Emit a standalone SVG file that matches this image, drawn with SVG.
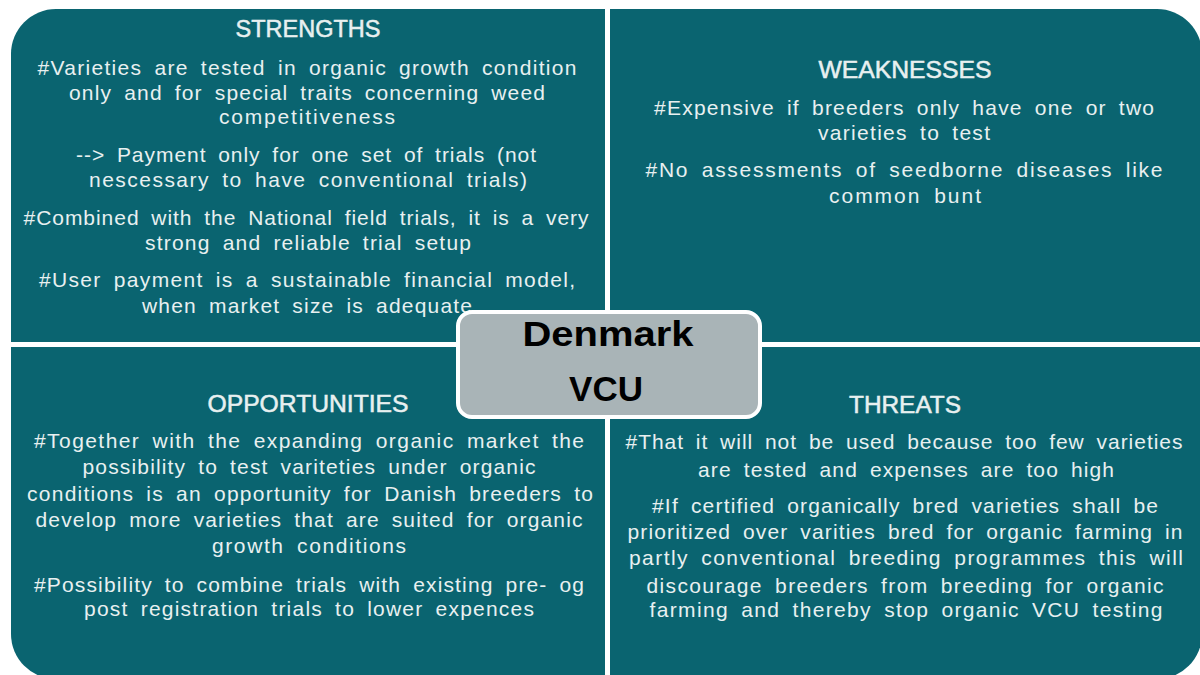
<svg xmlns="http://www.w3.org/2000/svg" width="1200" height="675" viewBox="0 0 1200 675">
  <style>
    .quad { fill: #0a6470; }
    .title { font-family: "Liberation Sans", Arial, sans-serif; font-size: 23.5px; fill: #e8f0f0; stroke: #e8f0f0; stroke-width: 0.5; text-anchor: middle; }
    .body { font-family: "Liberation Sans", Arial, sans-serif; font-size: 21px; word-spacing: 5px; fill: #e8f0f0; text-anchor: middle; }
    .center-box { fill: #a9b4b7; stroke: #ffffff; stroke-width: 4; }
    .center-text { font-family: "Liberation Sans", Arial, sans-serif; font-size: 35px; font-weight: bold; fill: #000000; text-anchor: middle; }
  </style>
  <rect width="1200" height="675" fill="#ffffff"/>

  <g id="strengths">
    <path class="quad" d="M11,342 V54 A45,45 0 0 1 56,9 H605 V342 Z"/>
    <text class="title" x="308" y="37" textLength="145" lengthAdjust="spacingAndGlyphs">STRENGTHS</text>
    <text class="body" x="307" y="75" textLength="539" lengthAdjust="spacing">#Varieties are tested in organic growth condition</text>
    <text class="body" x="307" y="100" textLength="476" lengthAdjust="spacing">only and for special traits concerning weed</text>
    <text class="body" x="307" y="124" textLength="176" lengthAdjust="spacing">competitiveness</text>
    <text class="body" x="306" y="162" textLength="460" lengthAdjust="spacing">--&gt; Payment only for one set of trials (not</text>
    <text class="body" x="308" y="187" textLength="438" lengthAdjust="spacing">nescessary to have conventional trials)</text>
    <text class="body" x="306" y="225" textLength="565" lengthAdjust="spacing">#Combined with the National field trials, it is a very</text>
    <text class="body" x="308" y="250" textLength="326" lengthAdjust="spacing">strong and reliable trial setup</text>
    <text class="body" x="307" y="287" textLength="536" lengthAdjust="spacing">#User payment is a sustainable financial model,</text>
    <text class="body" x="307" y="313" textLength="330" lengthAdjust="spacing">when market size is adequate</text>
  </g>

  <g id="weaknesses">
    <path class="quad" d="M610,9 H1157 A45,45 0 0 1 1202,54 V342 H610 Z"/>
    <text class="title" x="905" y="78" textLength="173" lengthAdjust="spacingAndGlyphs">WEAKNESSES</text>
    <text class="body" x="904" y="115" textLength="500" lengthAdjust="spacing">#Expensive if breeders only have one or two</text>
    <text class="body" x="904" y="140" textLength="172" lengthAdjust="spacing">varieties to test</text>
    <text class="body" x="904" y="177" textLength="517" lengthAdjust="spacing">#No assessments of seedborne diseases like</text>
    <text class="body" x="905" y="203" textLength="152" lengthAdjust="spacing">common bunt</text>
  </g>

  <g id="opportunities">
    <path class="quad" d="M11,347 H605 V679 H56 A45,45 0 0 1 11,634 Z"/>
    <text class="title" x="308" y="412" textLength="201" lengthAdjust="spacingAndGlyphs">OPPORTUNITIES</text>
    <text class="body" x="309" y="448" textLength="550" lengthAdjust="spacing">#Together with the expanding organic market the</text>
    <text class="body" x="309" y="474" textLength="453" lengthAdjust="spacing">possibility to test variteties under organic</text>
    <text class="body" x="310" y="501" textLength="566" lengthAdjust="spacing">conditions is an opportunity for Danish breeders to</text>
    <text class="body" x="309" y="527" textLength="547" lengthAdjust="spacing">develop more varieties that are suited for organic</text>
    <text class="body" x="309" y="553" textLength="194" lengthAdjust="spacing">growth conditions</text>
    <text class="body" x="309" y="592" textLength="550" lengthAdjust="spacing">#Possibility to combine trials with existing pre- og</text>
    <text class="body" x="309" y="616" textLength="450" lengthAdjust="spacing">post registration trials to lower expences</text>
  </g>

  <g id="threats">
    <path class="quad" d="M610,347 H1202 V634 A45,45 0 0 1 1157,679 H610 Z"/>
    <text class="title" x="905" y="413" textLength="112" lengthAdjust="spacingAndGlyphs">THREATS</text>
    <text class="body" x="904" y="449" textLength="557" lengthAdjust="spacing">#That it will not be used because too few varieties</text>
    <text class="body" x="906" y="477" textLength="416" lengthAdjust="spacing">are tested and expenses are too high</text>
    <text class="body" x="905" y="513" textLength="506" lengthAdjust="spacing">#If certified organically bred varieties shall be</text>
    <text class="body" x="905" y="539" textLength="555" lengthAdjust="spacing">prioritized over varities bred for organic farming in</text>
    <text class="body" x="906" y="565" textLength="554" lengthAdjust="spacing">partly conventional breeding programmes this will</text>
    <text class="body" x="905" y="593" textLength="517" lengthAdjust="spacing">discourage breeders from breeding for organic</text>
    <text class="body" x="906" y="617" textLength="513" lengthAdjust="spacing">farming and thereby stop organic VCU testing</text>
  </g>

  <g id="connectors"></g>

  <g id="center">
    <rect class="center-box" x="458" y="312" width="302" height="105" rx="14" ry="14"/>
    <text class="center-text" x="608" y="346" textLength="171" lengthAdjust="spacingAndGlyphs">Denmark</text>
    <text class="center-text" x="606" y="401">VCU</text>
  </g>
</svg>
